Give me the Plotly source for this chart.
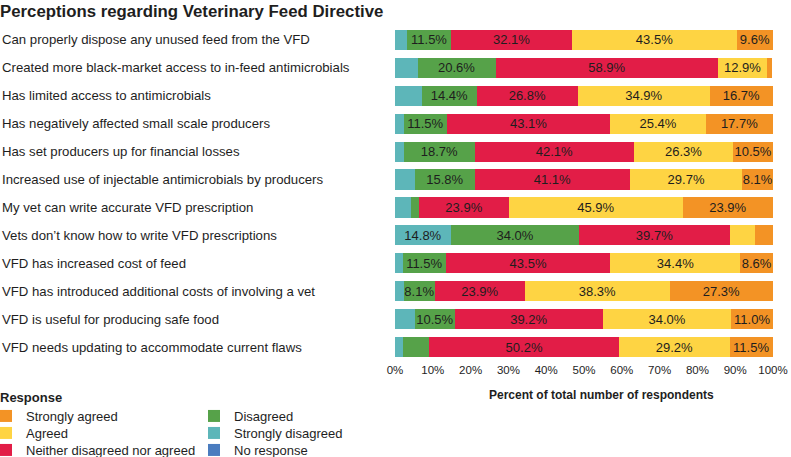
import plotly.graph_objects as go

categories = [
    "Can properly dispose any unused feed from the VFD",
    "Created more black-market access to in-feed antimicrobials",
    "Has limited access to antimicrobials",
    "Has negatively affected small scale producers",
    "Has set producers up for financial losses",
    "Increased use of injectable antimicrobials by producers",
    "My vet can write accurate VFD prescription",
    "Vets don\u2019t know how to write VFD prescriptions",
    "VFD has increased cost of feed",
    "VFD has introduced additional costs of involving a vet",
    "VFD is useful for producing safe food",
    "VFD needs updating to accommodate current flaws",
]

no_response = [0, 0, 0, 0, 0, 0, 0, 0, 0, 0, 0, 0]
strongly_disagreed = [3.3, 6.0, 7.2, 2.3, 2.4, 5.3, 4.2, 14.8, 2.0, 2.4, 5.3, 2.0]
disagreed = [11.5, 20.6, 14.4, 11.5, 18.7, 15.8, 2.1, 34.0, 11.5, 8.1, 10.5, 7.1]
neither = [32.1, 58.9, 26.8, 43.1, 42.1, 41.1, 23.9, 39.7, 43.5, 23.9, 39.2, 50.2]
agreed = [43.5, 12.9, 34.9, 25.4, 26.3, 29.7, 45.9, 6.8, 34.4, 38.3, 34.0, 29.2]
strongly_agreed = [9.6, 1.3, 16.7, 17.7, 10.5, 8.1, 23.9, 4.7, 8.6, 27.3, 11.0, 11.5]

x_ticks = [0, 10, 20, 30, 40, 50, 60, 70, 80, 90, 100]

series = [
    ("No response", no_response, "#4A7CBF"),
    ("Strongly disagreed", strongly_disagreed, "#5DB6B9"),
    ("Disagreed", disagreed, "#56A249"),
    ("Neither disagreed nor agreed", neither, "#E21D47"),
    ("Agreed", agreed, "#FED443"),
    ("Strongly agreed", strongly_agreed, "#F39325"),
]

FONT = "Liberation Sans, Arial, sans-serif"
W, H = 791, 457
L, R, T, B = 395, 18, 26, 96
PW, PH = W - L - R, H - T - B

def px_to_paper_x(px):
    return (px - L) / PW

def py_to_paper_y(py):
    return (H - B - py) / PH

# legend positions (symbol centre x, row centre y, in px)
legend_pos = {
    "Strongly agreed": (6, 416),
    "Agreed": (6, 433),
    "Neither disagreed nor agreed": (6, 450),
    "Disagreed": (214, 416),
    "Strongly disagreed": (214, 433),
    "No response": (214, 450),
}
order = ["Strongly agreed", "Agreed", "Neither disagreed nor agreed",
         "Disagreed", "Strongly disagreed", "No response"]
legend_ids = {name: ("legend" if i == 0 else f"legend{i+1}")
              for i, name in enumerate(order)}

fig = go.Figure()
for name, vals, color in series:
    txt = [f"{v:.1f}%" if v >= 8 else "" for v in vals]
    fig.add_trace(go.Bar(
        y=categories, x=vals, orientation="h", name=name,
        marker=dict(color=color, line=dict(width=0)),
        text=txt, textposition="inside", insidetextanchor="middle",
        textfont=dict(family=FONT, size=13, color="#1e1e1e"),
        legend=legend_ids[name],
    ))

layout_legends = {}
for name in order:
    cx, cy = legend_pos[name]
    layout_legends[legend_ids[name]] = dict(
        xref="paper", yref="container",
        x=px_to_paper_x(cx - 20), y=1 - cy / H,
        xanchor="left", yanchor="middle",
        bgcolor="rgba(0,0,0,0)", borderwidth=0,
        font=dict(family=FONT, size=13, color="#1e1e1e"),
        itemclick=False, itemdoubleclick=False,
    )

annotations = []
for c in categories:
    annotations.append(dict(
        xref="paper", yref="y", x=px_to_paper_x(0), y=c,
        text=c, showarrow=False, xanchor="left", yanchor="middle",
        font=dict(family=FONT, size=13.2, color="#1e1e1e"),
    ))
annotations.append(dict(
    xref="paper", yref="paper", x=px_to_paper_x(601), y=py_to_paper_y(395),
    text="<b>Percent of total number of respondents</b>", showarrow=False,
    xanchor="center", yanchor="middle",
    font=dict(family=FONT, size=12, color="#1e1e1e"),
))
annotations.append(dict(
    xref="paper", yref="paper", x=px_to_paper_x(-2), y=py_to_paper_y(397),
    text="<b>Response</b>", showarrow=False,
    xanchor="left", yanchor="middle",
    font=dict(family=FONT, size=13, color="#1e1e1e"),
))

fig.update_layout(
    width=W, height=H,
    margin=dict(l=L, r=R, t=T, b=B, autoexpand=False),
    paper_bgcolor="white", plot_bgcolor="white",
    barmode="stack", bargap=0.28,
    showlegend=True,
    title=dict(text="<b>Perceptions regarding Veterinary Feed Directive</b>",
               xref="container", yref="container", x=0.0, y=1 - 11 / H,
               xanchor="left", yanchor="middle",
               font=dict(family=FONT, size=16.8, color="#1e1e1e")),
    uniformtext=dict(mode="show", minsize=13),
    xaxis=dict(range=[0, 100], tickvals=x_ticks,
               ticktext=[f"{t}%" for t in x_ticks],
               showgrid=False, zeroline=False, showline=False, ticks="",
               tickfont=dict(family=FONT, size=11.5, color="#1e1e1e"),
               fixedrange=True),
    yaxis=dict(autorange="reversed", showticklabels=False, showgrid=False,
               zeroline=False, showline=False, ticks="", fixedrange=True),
    annotations=annotations,
    **layout_legends,
)

fig.write_html("out.html",
               config={"displayModeBar": False},
               post_script="document.body.style.margin='0';")
